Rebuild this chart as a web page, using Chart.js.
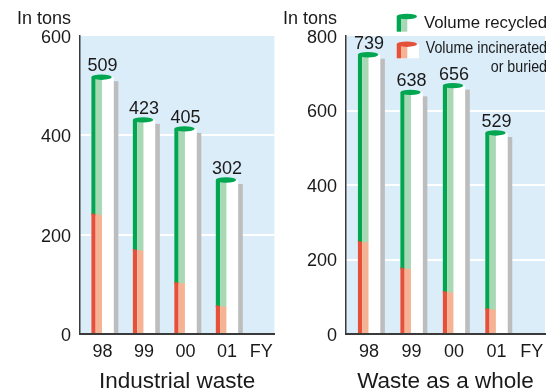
<!DOCTYPE html>
<html>
<head>
<meta charset="utf-8">
<script src="https://cdn.jsdelivr.net/npm/chart.js@4.4.1/dist/chart.umd.min.js"></script>
<style>
  html, body { margin: 0; padding: 0; background: #ffffff; }
  #wrap { position: relative; width: 557px; height: 391px; overflow: hidden; }
  .panel { position: absolute; top: 0; height: 391px; }
  #p1 { left: 0; width: 280px; }
  #p2 { left: 280px; width: 277px; }
</style>
</head>
<body>
<div id="wrap">
  <div class="panel" id="p1"><canvas id="c1"></canvas></div>
  <div class="panel" id="p2"><canvas id="c2"></canvas></div>
</div>
<script>
// Fiscal years shown on the x axis (the last label marks the axis unit)
const fiscalYears = ['98', '99', '00', '01'];
const xAxisLabels = ['98', '99', '00', '01', 'FY'];

// Industrial waste, in tons
const industrialTotal = [509, 423, 405, 302];
const industrialIncinerated = [241, 169, 103, 56];

// Waste as a whole, in tons
const overallTotal = [739, 638, 656, 529];
const overallIncinerated = [247, 176, 113, 67];

// Value-axis ticks
const industrialTicks = [0, 200, 400, 600];
const overallTicks = [0, 200, 400, 600, 800];

const FONT = "'Liberation Sans', Arial, Helvetica, sans-serif";
const TEXT = '#1a1a1a';
const COLORS = {
  plotBg: '#dcedfa',
  axis: '#3a3a3a',
  green: '#00a650',
  greenLight: '#a9d8b5',
  red: '#e5503a',
  redLight: '#f6b394',
  shadow: '#bdbdbd',
  body: '#ffffff'
};

// Paints one cylinder: cap, coloured edge strips and white body
function paintCylinder(ctx, L, w, capY, bottom, dark, light, splitY) {
  ctx.fillStyle = COLORS.body;
  ctx.fillRect(L, capY, w, bottom - capY);
  const stop = splitY === undefined ? bottom : splitY + 1;
  ctx.fillStyle = dark;
  ctx.fillRect(L, capY, 4.3, stop - capY);
  ctx.fillStyle = light;
  ctx.fillRect(L + 4.3, capY, 6.3, stop - capY);
  ctx.fillStyle = dark;
  ctx.beginPath();
  ctx.ellipse(L + (w - 2) / 2, capY, (w - 2) / 2, 2.7, 0, 0, Math.PI * 2);
  ctx.fill();
}

const cylinderPlugin = {
  id: 'cylinders',
  beforeDraw(chart) {
    const { ctx, chartArea: a } = chart;
    ctx.save();
    ctx.fillStyle = COLORS.plotBg;
    ctx.fillRect(a.left, a.top, a.right - a.left, a.bottom - a.top);
    ctx.restore();
  },
  afterDatasetsDraw(chart) {
    const ctx = chart.ctx;
    const recycled = chart.getDatasetMeta(0).data;
    const burned = chart.getDatasetMeta(1).data;
    const totals = chart.data.datasets[0].totals;
    ctx.save();
    recycled.forEach((el, i) => {
      const w = el.width, L = el.x - w / 2, R = el.x + w / 2;
      const yTop = el.y, yMid = el.base, yBot = burned[i].base;
      const capY = yTop - 4;
      // shadow strip
      ctx.fillStyle = COLORS.shadow;
      ctx.fillRect(R, yTop, 4.7, yBot - yTop);
      // recycled part (green edges down to the split)
      paintCylinder(ctx, L, w, capY, yBot, COLORS.green, COLORS.greenLight, yMid);
      // incinerated or buried part
      ctx.fillStyle = COLORS.red;
      ctx.beginPath();
      ctx.moveTo(L, yMid - 1.2);
      ctx.lineTo(L + 4.3, yMid);
      ctx.lineTo(L + 4.3, yBot);
      ctx.lineTo(L, yBot);
      ctx.closePath();
      ctx.fill();
      ctx.fillStyle = COLORS.redLight;
      ctx.beginPath();
      ctx.moveTo(L + 4.3, yMid);
      ctx.lineTo(L + 10.6, yMid + 0.6);
      ctx.lineTo(L + 10.6, yBot);
      ctx.lineTo(L + 4.3, yBot);
      ctx.closePath();
      ctx.fill();
      // value label
      ctx.fillStyle = TEXT;
      ctx.font = `18px ${FONT}`;
      ctx.textAlign = 'center';
      ctx.textBaseline = 'alphabetic';
      ctx.fillText(String(totals[i]), el.x, yTop - 10);
    });
    ctx.restore();
  },
  afterDraw(chart) {
    const ctx = chart.ctx;
    const a = chart.chartArea;
    ctx.save();
    ctx.fillStyle = TEXT;
    ctx.font = `18px ${FONT}`;
    ctx.textAlign = 'right';
    ctx.textBaseline = 'alphabetic';
    ctx.fillText('In tons', a.left - 9, 23.5);
    ctx.restore();
  }
};

const legendPlugin = {
  id: 'cylinderLegend',
  afterDraw(chart) {
    const ctx = chart.ctx;
    ctx.save();
    paintCylinder(ctx, 116.7, 22.3, 16.5, 31.7, COLORS.green, COLORS.greenLight);
    paintCylinder(ctx, 116.7, 22.3, 44.2, 58.3, COLORS.red, COLORS.redLight);
    ctx.fillStyle = TEXT;
    ctx.textBaseline = 'alphabetic';
    ctx.font = `16.8px ${FONT}`;
    ctx.textAlign = 'left';
    ctx.fillText('Volume recycled', 144, 28.3);
    // condensed lines
    ctx.font = `17.4px ${FONT}`;
    ctx.textAlign = 'right';
    ctx.save();
    ctx.translate(267, 0);
    ctx.scale(0.82, 1);
    ctx.fillText('Volume incinerated', 0, 53.3);
    ctx.fillText('or buried', 0, 71.7);
    ctx.restore();
    ctx.restore();
  }
};

const X_MIN = -0.543, X_MAX = 4.144;
const X_TICK_POS = [0, 1, 2, 3, 3.83];

function makeChart(canvasId, cfg) {
  const yMax = cfg.ticks[cfg.ticks.length - 1];
  return new Chart(document.getElementById(canvasId), {
    type: 'bar',
    data: {
      datasets: [
        {
          label: 'Volume recycled',
          totals: cfg.total,
          data: fiscalYears.map((fy, i) => ({ x: i, y: [cfg.inc[i], cfg.total[i]] })),
          backgroundColor: 'rgba(0,0,0,0)',
          barThickness: 22.3,
          grouped: false
        },
        {
          label: 'Volume incinerated or buried',
          data: fiscalYears.map((fy, i) => ({ x: i, y: [0, cfg.inc[i]] })),
          backgroundColor: 'rgba(0,0,0,0)',
          barThickness: 22.3,
          grouped: false
        }
      ]
    },
    options: {
      responsive: true,
      maintainAspectRatio: false,
      animation: false,
      layout: { padding: { top: 36, right: cfg.rightPad, left: 0, bottom: 0 } },
      plugins: { legend: { display: false }, tooltip: { enabled: false } },
      scales: {
        x: {
          type: 'linear',
          min: X_MIN,
          max: X_MAX,
          bounds: 'data',
          offset: false,
          grid: { display: false, drawTicks: false },
          border: { display: true, color: COLORS.axis, width: 2 },
          afterBuildTicks: (s) => { s.ticks = X_TICK_POS.map(v => ({ value: v })); },
          ticks: {
            autoSkip: false,
            maxRotation: 0,
            padding: 7,
            color: TEXT,
            font: { family: FONT, size: 18 },
            callback: (v, i) => xAxisLabels[i]
          },
          title: {
            display: true,
            text: cfg.title,
            color: TEXT,
            font: { family: FONT, size: 22.5, lineHeight: 1 },
            padding: { top: 0, bottom: -2 }
          },
          afterFit: (s) => { s.height = 57; }
        },
        y: {
          min: 0,
          max: yMax,
          afterBuildTicks: (s) => { s.ticks = cfg.ticks.map(v => ({ value: v })); },
          grid: {
            drawTicks: false,
            lineWidth: 2,
            color: (c) => (c.tick && (c.tick.value === 0 || c.tick.value === yMax)) ? 'rgba(0,0,0,0)' : '#ffffff'
          },
          border: { display: true, color: COLORS.axis, width: 1.5 },
          ticks: {
            padding: 9,
            labelOffset: 2,
            color: TEXT,
            font: { family: FONT, size: 18 }
          },
          afterFit: (s) => { s.width = cfg.axisWidth; }
        }
      }
    },
    plugins: cfg.withLegend ? [cylinderPlugin, legendPlugin] : [cylinderPlugin]
  });
}

makeChart('c1', {
  total: industrialTotal,
  inc: industrialIncinerated,
  ticks: industrialTicks,
  title: 'Industrial waste',
  axisWidth: 80,
  rightPad: 2,
  withLegend: false
});

makeChart('c2', {
  total: overallTotal,
  inc: overallIncinerated,
  ticks: overallTicks,
  title: 'Waste as a whole',
  axisWidth: 66,
  rightPad: 12,
  withLegend: true
});
</script>
</body>
</html>
